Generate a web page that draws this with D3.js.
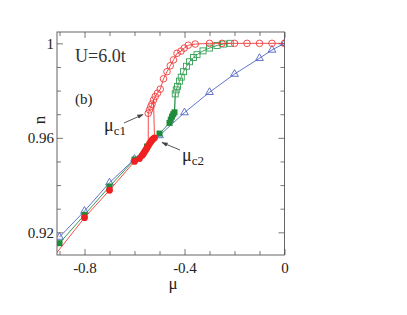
<!DOCTYPE html>
<html>
<head>
<meta charset="utf-8">
<script src="https://cdn.jsdelivr.net/npm/d3@7"></script>
<style>
  body { margin: 0; background: #fff; }
  text { font-family: "Liberation Serif", "DejaVu Serif", serif; }
</style>
</head>
<body>
<div id="chart"></div>
<script>
// chemical potential mu (x) vs filling n (y), U = 6.0t

// red: lower branch (filled circles) and upper branch (open circles)
const redLowMu = [-0.93, -0.8, -0.7, -0.6, -0.58, -0.57, -0.565, -0.56, -0.555, -0.55, -0.545, -0.54, -0.535, -0.53, -0.525, -0.52];
const redLowN  = [0.9088, 0.9262, 0.9378, 0.9500, 0.9512, 0.9525, 0.9532, 0.9540, 0.9549, 0.9557, 0.9566, 0.9575, 0.9583, 0.9590, 0.9596, 0.9600];
const redUpMu = [-0.545, -0.54, -0.535, -0.53, -0.524, -0.517, -0.508, -0.497, -0.484, -0.47, -0.457, -0.444, -0.43, -0.414, -0.401, -0.385, -0.357, -0.3, -0.25, -0.2, -0.15, -0.1, -0.05, 0];
const redUpN  = [0.9704, 0.9718, 0.9732, 0.9743, 0.9760, 0.9775, 0.9789, 0.9806, 0.9850, 0.9880, 0.9905, 0.9930, 0.9958, 0.9967, 0.9980, 0.9992, 0.9997, 1.0, 1.0, 1.0, 1.0, 1.0, 1.0, 1.0];

// green: lower branch (filled squares) and upper branch (open squares)
const greenLowMu = [-0.9, -0.8, -0.7, -0.6, -0.55, -0.5, -0.46, -0.455, -0.45, -0.445, -0.44];
const greenLowN  = [0.9154, 0.9274, 0.9394, 0.9508, 0.9563, 0.9618, 0.9663, 0.9677, 0.9690, 0.9700, 0.9708];
const greenUpMu = [-0.437, -0.433, -0.428, -0.42, -0.413, -0.404, -0.392, -0.38, -0.364, -0.35, -0.326, -0.3, -0.27, -0.244, -0.217];
const greenUpN  = [0.9786, 0.9803, 0.9818, 0.9840, 0.9857, 0.9880, 0.9903, 0.9922, 0.9940, 0.9952, 0.9968, 0.9980, 0.9991, 0.9997, 1.0];

// blue: open triangles
const blueMu = [-0.9, -0.8, -0.7, -0.6, -0.5, -0.4, -0.3, -0.2, -0.1, -0.05, 0];
const blueN  = [0.9180, 0.9290, 0.9410, 0.9510, 0.9610, 0.9707, 0.9793, 0.9870, 0.9937, 0.9972, 1.0];

// ticks
const xMajor = [-0.8, -0.4, 0];
const xMinor = [-0.9, -0.7, -0.6, -0.5, -0.3, -0.2, -0.1];
const yMajor = [0.92, 0.96, 1];
const yMinor = [0.93, 0.94, 0.95, 0.97, 0.98, 0.99];

const W = 407, H = 315;
const margin = { top: 32, left: 57, right: 122.5, bottom: 60 };
const width = W - margin.left - margin.right;
const height = H - margin.top - margin.bottom;

const RED = '#f02020', GREEN = '#1f8c3c', BLUE = '#5064c4';

const svg = d3.select('#chart').append('svg')
    .attr('width', W)
    .attr('height', H);

const g = svg.append('g')
    .attr('transform', 'translate(' + margin.left + ',' + margin.top + ')');

const x = d3.scaleLinear().domain([-0.91, 0]).range([0, width]);
const y = d3.scaleLinear().domain([0.9104, 1.0048]).range([height, 0]);

const fmtX = d => d === 0 ? '0' : d.toFixed(1).replace('\u2212', '-');
const fmtY = d => d === 1 ? '1' : d.toFixed(2);

function styleAxis(sel) {
  sel.select('.domain').remove();
  sel.selectAll('line').attr('stroke', '#555').attr('stroke-width', 0.8);
  sel.selectAll('text').attr('fill', '#222').style('font-size', '15px')
     .style('font-family', '"Liberation Serif", serif');
}

// bottom
g.append('g').attr('transform', 'translate(0,' + height + ')')
  .call(d3.axisBottom(x).tickValues(xMajor).tickSize(-6).tickPadding(7).tickFormat(fmtX))
  .call(styleAxis);
g.append('g').attr('transform', 'translate(0,' + height + ')')
  .call(d3.axisBottom(x).tickValues(xMinor).tickSize(-4).tickFormat(''))
  .call(styleAxis);
// top
g.append('g')
  .call(d3.axisTop(x).tickValues(xMajor).tickSize(-6).tickFormat(''))
  .call(styleAxis);
g.append('g')
  .call(d3.axisTop(x).tickValues(xMinor).tickSize(-4).tickFormat(''))
  .call(styleAxis);
// left
g.append('g')
  .call(d3.axisLeft(y).tickValues(yMajor).tickSize(-6).tickPadding(3).tickFormat(fmtY))
  .call(styleAxis);
g.append('g')
  .call(d3.axisLeft(y).tickValues(yMinor).tickSize(-4).tickFormat(''))
  .call(styleAxis);
// right
g.append('g').attr('transform', 'translate(' + width + ',0)')
  .call(d3.axisRight(y).tickValues(yMajor).tickSize(-6).tickFormat(''))
  .call(styleAxis);
g.append('g').attr('transform', 'translate(' + width + ',0)')
  .call(d3.axisRight(y).tickValues(yMinor).tickSize(-4).tickFormat(''))
  .call(styleAxis);

// frame
g.append('rect')
  .attr('width', width).attr('height', height)
  .attr('fill', 'none').attr('stroke', '#555').attr('stroke-width', 0.9);

g.append('clipPath').attr('id', 'clip')
  .append('rect').attr('width', width).attr('height', height);

const plot = g.append('g').attr('clip-path', 'url(#clip)');

const line = d3.line().x(d => x(d[0])).y(d => y(d[1]));
const zip = (a, b) => a.map((v, i) => [v, b[i]]);

const blue = zip(blueMu, blueN);
const greenLow = zip(greenLowMu, greenLowN);
const greenUp = zip(greenUpMu, greenUpN);
const redLow = zip(redLowMu, redLowN);
const redUp = zip(redUpMu, redUpN);

// blue
plot.append('path').datum(blue).attr('d', line)
  .attr('fill', 'none').attr('stroke', BLUE).attr('stroke-width', 0.9);
plot.selectAll('.tri').data(blue).enter().append('path')
  .attr('class', 'tri')
  .attr('transform', d => 'translate(' + x(d[0]) + ',' + y(d[1]) + ')')
  .attr('d', d3.symbol().type(d3.symbolTriangle).size(26))
  .attr('fill', 'none').attr('stroke', BLUE).attr('stroke-width', 0.9);

// green: lower line, jump, upper line
plot.append('path').datum(greenLow).attr('d', line)
  .attr('fill', 'none').attr('stroke', GREEN).attr('stroke-width', 0.9);
plot.append('path').datum([greenLow[greenLow.length - 1], greenUp[0]]).attr('d', line)
  .attr('fill', 'none').attr('stroke', GREEN).attr('stroke-width', 1.2);
plot.append('path').datum(greenUp).attr('d', line)
  .attr('fill', 'none').attr('stroke', GREEN).attr('stroke-width', 0.8);
plot.selectAll('.gsqo').data(greenUp).enter().append('rect')
  .attr('class', 'gsqo')
  .attr('x', d => x(d[0]) - 3).attr('y', d => y(d[1]) - 3)
  .attr('width', 6).attr('height', 6)
  .attr('fill', 'none').attr('stroke', '#35a055').attr('stroke-width', 0.9);
plot.selectAll('.gsq').data(greenLow).enter().append('rect')
  .attr('class', 'gsq')
  .attr('x', d => x(d[0]) - 3).attr('y', d => y(d[1]) - 3)
  .attr('width', 6).attr('height', 6)
  .attr('fill', GREEN);

// red: lower line, two vertical jumps, upper line
plot.append('path').datum(redLow).attr('d', line)
  .attr('fill', 'none').attr('stroke', RED).attr('stroke-width', 0.8);
plot.append('path').datum([redLow[10], redUp[0]]).attr('d', line)
  .attr('fill', 'none').attr('stroke', RED).attr('stroke-width', 0.8);
plot.append('path').datum([redLow[redLow.length - 1], redUp[4]]).attr('d', line)
  .attr('fill', 'none').attr('stroke', RED).attr('stroke-width', 0.8);
plot.append('path').datum(redUp).attr('d', line)
  .attr('fill', 'none').attr('stroke', RED).attr('stroke-width', 0.8);
plot.selectAll('.rco').data(redUp).enter().append('circle')
  .attr('class', 'rco')
  .attr('cx', d => x(d[0])).attr('cy', d => y(d[1])).attr('r', 3.3)
  .attr('fill', 'none').attr('stroke', '#f23a3a').attr('stroke-width', 0.9);
plot.selectAll('.rc').data(redLow).enter().append('circle')
  .attr('class', 'rc')
  .attr('cx', d => x(d[0])).attr('cy', d => y(d[1])).attr('r', 3.4)
  .attr('fill', RED);

// annotations
g.append('text').attr('x', 75 - margin.left).attr('y', 62 - margin.top)
  .style('font-size', '18px').attr('fill', '#333').text('U=6.0t');
g.append('text').attr('x', 75 - margin.left).attr('y', 104 - margin.top)
  .style('font-size', '15px').attr('fill', '#222').text('(b)');

// mu_c1
const c1 = g.append('text').attr('x', 104 - margin.left).attr('y', 131 - margin.top)
  .style('font-size', '18px').attr('fill', '#222');
c1.append('tspan').text('\u03bc');
c1.append('tspan').attr('dy', 4).style('font-size', '13px').text('c1');
// mu_c2
const c2 = g.append('text').attr('x', 182 - margin.left).attr('y', 161 - margin.top)
  .style('font-size', '18px').attr('fill', '#222');
c2.append('tspan').text('\u03bc');
c2.append('tspan').attr('dy', 4).style('font-size', '13px').text('c2');

// arrows
svg.append('defs').append('marker')
  .attr('id', 'ah').attr('viewBox', '0 0 10 10').attr('refX', 9).attr('refY', 5)
  .attr('markerWidth', 7).attr('markerHeight', 7).attr('orient', 'auto')
  .append('path').attr('d', 'M0,1.5 L10,5 L0,8.5 Z').attr('fill', '#444');

g.append('line')
  .attr('x1', 124 - margin.left).attr('y1', 123 - margin.top)
  .attr('x2', 143 - margin.left).attr('y2', 114.5 - margin.top)
  .attr('stroke', '#444').attr('stroke-width', 0.9).attr('marker-end', 'url(#ah)');
g.append('line')
  .attr('x1', 180 - margin.left).attr('y1', 150 - margin.top)
  .attr('x2', 162 - margin.left).attr('y2', 142.5 - margin.top)
  .attr('stroke', '#444').attr('stroke-width', 0.9).attr('marker-end', 'url(#ah)');

// axis titles
svg.append('text').attr('x', 173).attr('y', 289)
  .attr('text-anchor', 'middle').style('font-size', '17px').attr('fill', '#222').text('\u03bc');
svg.append('text').attr('transform', 'translate(45,120) rotate(-90)')
  .attr('text-anchor', 'middle').style('font-size', '17px').attr('fill', '#222').text('n');
</script>
</body>
</html>
